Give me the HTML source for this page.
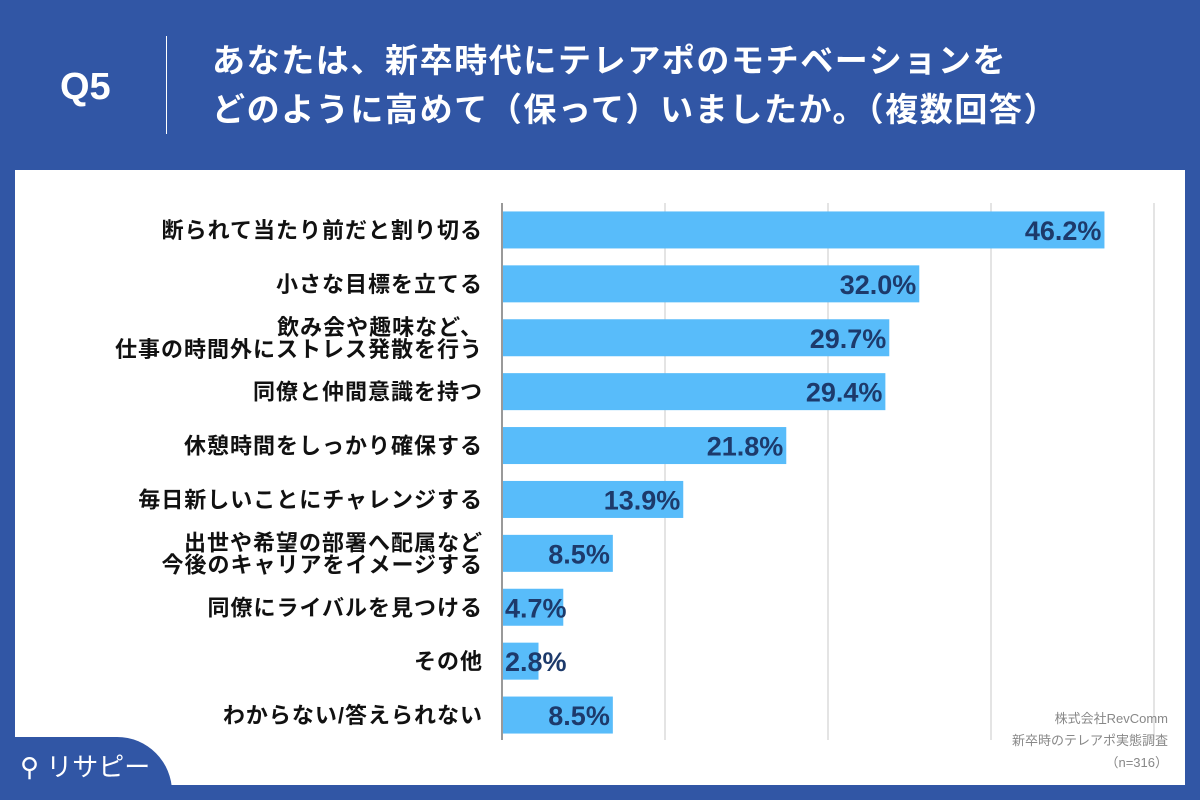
<!DOCTYPE html>
<html><head><meta charset="utf-8"><style>
body{margin:0;width:1200px;height:800px;background:#3156a5;position:relative;overflow:hidden;font-family:"Liberation Sans","Noto Sans CJK JP",sans-serif}
#panel{position:absolute;left:15px;top:170px;width:1170px;height:615px;background:#fff}
#q{position:absolute;left:60px;top:66px;color:#fff;font-size:38px;font-weight:bold}
#sep{position:absolute;left:166px;top:36px;width:1px;height:98px;background:#fff}
#title{position:absolute;left:212px;top:36px;color:#fff;font-size:33px;font-weight:bold;line-height:49px;letter-spacing:1.6px;white-space:nowrap}
#tab{position:absolute;left:0;top:737px;width:172px;height:63px;background:#3156a5;border-top-right-radius:55px}
#logo{position:absolute;left:20px;top:747px;color:#fff;font-size:26px}
#src{position:absolute;right:32px;top:708px;color:#888;font-size:13px;text-align:right;line-height:22px}
svg{position:absolute;left:0;top:0}
</style></head><body>
<div id="panel"></div>
<div id="q">Q5</div>
<div id="sep"></div>
<div id="title">あなたは、新卒時代にテレアポのモチベーションを<br>どのように高めて（保って）いましたか。（複数回答）</div>
<svg id="chart" width="1200" height="800"></svg>
<div id="tab"></div>
<div id="logo">⚲ リサピー</div>
<div id="src">株式会社RevComm<br>新卒時のテレアポ実態調査<br>（n=316）</div>
<script>
const categories=[["断られて当たり前だと割り切る"],["小さな目標を立てる"],["飲み会や趣味など、","仕事の時間外にストレス発散を行う"],["同僚と仲間意識を持つ"],["休憩時間をしっかり確保する"],["毎日新しいことにチャレンジする"],["出世や希望の部署へ配属など","今後のキャリアをイメージする"],["同僚にライバルを見つける"],["その他"],["わからない/答えられない"]];
const values=[46.2,32.0,29.7,29.4,21.8,13.9,8.5,4.7,2.8,8.5];
const gridTicks=[0,12.5,25,37.5,50];
const svg=document.getElementById('chart');const NS='http://www.w3.org/2000/svg';
const x0=502,pxPer=(1154-502)/50,y0=203,step=53.9,bh=37;
const xs=v=>x0+v*pxPer;
function mk(t,a){const e=document.createElementNS(NS,t);for(const k in a)e.setAttribute(k,a[k]);svg.appendChild(e);return e;}
gridTicks.forEach((g,i)=>{const l=mk('line',{x1:xs(g),x2:xs(g),y1:203,y2:740,stroke:i?'#c8c8c8':'#333','stroke-width':1});

});
values.forEach((v,i)=>{const yc=y0+step*i+step/2;
const r=mk('rect',{x:x0+1,y:yc-bh/2,width:xs(v)-x0-1,height:bh,fill:'#58bcfa'});


const w=xs(v)-x0;const inside=w>80;
const t=mk('text',{x:inside?xs(v)-3:x0+3,y:yc+10,'text-anchor':inside?'end':'start','font-size':27,'font-weight':'bold',fill:'#1d3a6b'});t.textContent=v.toFixed(1)+'%';


const lines=categories[i];lines.forEach((s,j)=>{const c=mk('text',{x:483,y:yc+8+(j-(lines.length-1)/2)*22,'text-anchor':'end','font-size':22,'font-weight':'bold','letter-spacing':1,fill:'#111'});c.textContent=s;

});});
</script>
</body></html>
